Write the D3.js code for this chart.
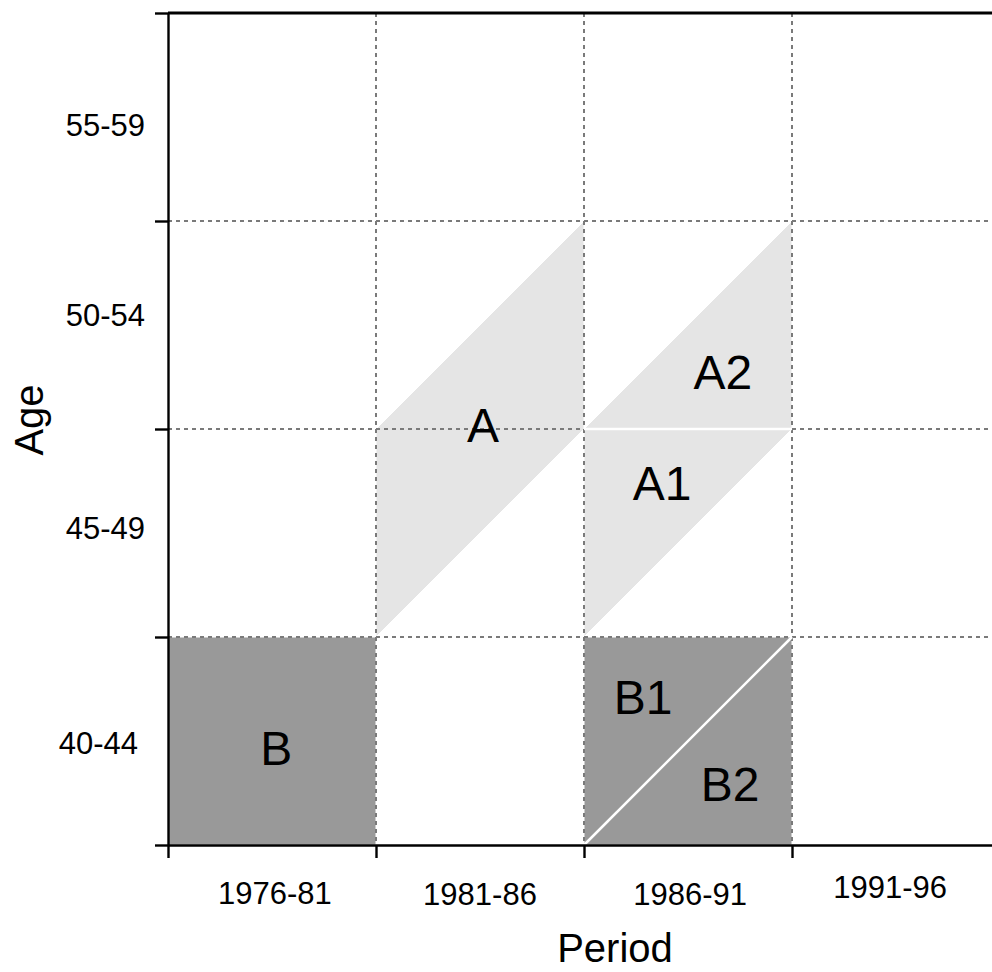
<!DOCTYPE html>
<html>
<head>
<meta charset="utf-8">
<script src="https://cdn.jsdelivr.net/npm/d3@7"></script>
<style>
  html, body { margin: 0; padding: 0; background: #fff; }
  svg { display: block; font-family: "Liberation Sans", Arial, Helvetica, sans-serif; }
</style>
</head>
<body>
<svg id="chart" width="992" height="972"></svg>
<script>
// ---- data ----
const periodBreaks = [1976, 1981, 1986, 1991, 1996];
const ageBreaks = [40, 45, 50, 55, 60];
const periodLabels = ["1976-81", "1981-86", "1986-91", "1991-96"];
const periodLabelAt = [1978.57, 1983.5, 1988.55, 1993.36];
const ageLabels = ["40-44", "45-49", "50-54", "55-59"];
const ageLabelAt = [42.45, 47.62, 52.75, 57.31];

// regions: [period, age] vertices
const regionNames = ["B", "A", "A1", "A2", "B1", "B2"];
const regionShade = ["dark", "light", "light", "light", "dark", "dark"];
const regionVertices = [
  [[1976, 40], [1976, 45], [1981, 45], [1981, 40]],
  [[1981, 45], [1981, 50], [1986, 55], [1986, 50]],
  [[1986, 45], [1986, 50], [1991, 50]],
  [[1986, 50], [1991, 55], [1991, 50]],
  [[1986, 40], [1986, 45], [1991, 45]],
  [[1986, 40], [1991, 45], [1991, 40]]
];
const regionLabelAt = [
  [1978.6, 42.33], [1983.57, 50.1], [1987.88, 48.7],
  [1989.34, 51.37], [1987.42, 43.55], [1989.51, 41.47]
];
// white separators between split regions
const separators = [
  [[1986, 50], [1991, 50]],
  [[1986, 40], [1991, 45]]
];

// ---- drawing ----
const svg = d3.select("#chart");
const x = d3.scaleLinear().domain([1976, 1996]).range([168, 1000]);
const y = d3.scaleLinear().domain([40, 60]).range([845, 13]);
const shade = { dark: "#999999", light: "#e5e5e5" };

const line = d3.line().x(d => x(d[0])).y(d => y(d[1]));

// region fills
svg.append("g").selectAll("path")
  .data(regionVertices)
  .join("path")
  .attr("d", d => line(d) + "Z")
  .attr("fill", (d, i) => shade[regionShade[i]])
  .attr("stroke", "#fff")
  .attr("stroke-width", 1);

// dashed grid
const grid = svg.append("g")
  .attr("stroke", "#7a7a7a")
  .attr("stroke-width", 2)
  .attr("stroke-dasharray", "4,4");
grid.selectAll("line.v")
  .data(periodBreaks.slice(1, -1))
  .join("line")
  .attr("class", "v")
  .attr("x1", d => x(d)).attr("x2", d => x(d))
  .attr("y1", y(60)).attr("y2", y(40));
grid.selectAll("line.h")
  .data(ageBreaks.slice(1, -1))
  .join("line")
  .attr("class", "h")
  .attr("y1", d => y(d)).attr("y2", d => y(d))
  .attr("x1", x(1976)).attr("x2", x(1996));

// white separators
svg.append("g").selectAll("path")
  .data(separators)
  .join("path")
  .attr("d", d => line(d))
  .attr("stroke", "#fff")
  .attr("stroke-width", 2.5)
  .attr("fill", "none");

// region labels
svg.append("g").selectAll("text")
  .data(regionNames)
  .join("text")
  .attr("x", (d, i) => x(regionLabelAt[i][0]))
  .attr("y", (d, i) => y(regionLabelAt[i][1]) + 17)
  .attr("text-anchor", "middle")
  .attr("font-size", 48)
  .attr("fill", "#000")
  .text(d => d);

// axes
const xAxis = d3.axisBottom(x)
  .tickValues(periodBreaks.slice(0, -1))
  .tickSize(13).tickSizeOuter(0).tickFormat("");
const gx = svg.append("g").attr("transform", `translate(0,${y(40)})`).call(xAxis);
gx.selectAll("path, line").attr("stroke", "#000").attr("stroke-width", 2.4);

const yAxis = d3.axisLeft(y)
  .tickValues(ageBreaks)
  .tickSize(13).tickSizeOuter(0).tickFormat("");
const gy = svg.append("g").attr("transform", `translate(${x(1976)},0)`).call(yAxis);
gy.selectAll("path, line").attr("stroke", "#000").attr("stroke-width", 2.4);

// top border
svg.append("line")
  .attr("x1", x(1976)).attr("x2", x(1996))
  .attr("y1", y(60)).attr("y2", y(60))
  .attr("stroke", "#000").attr("stroke-width", 2.8);

// period tick labels
const periodDy = [0, 1, 1, -6];
svg.append("g").selectAll("text")
  .data(periodLabels)
  .join("text")
  .attr("x", (d, i) => x(periodLabelAt[i]))
  .attr("y", (d, i) => 904 + periodDy[i])
  .attr("text-anchor", "middle")
  .attr("font-size", 31)
  .text(d => d);

// age tick labels
const ageRight = [138, 145, 145, 145];
svg.append("g").selectAll("text")
  .data(ageLabels)
  .join("text")
  .attr("x", (d, i) => ageRight[i])
  .attr("y", (d, i) => y(ageLabelAt[i]) + 11)
  .attr("text-anchor", "end")
  .attr("font-size", 31)
  .text(d => d);

// axis titles
svg.append("text")
  .attr("x", 615).attr("y", 962)
  .attr("text-anchor", "middle")
  .attr("font-size", 40)
  .text("Period");

svg.append("text")
  .attr("transform", "translate(43,420) rotate(-90)")
  .attr("text-anchor", "middle")
  .attr("font-size", 40)
  .text("Age");
</script>
</body>
</html>
